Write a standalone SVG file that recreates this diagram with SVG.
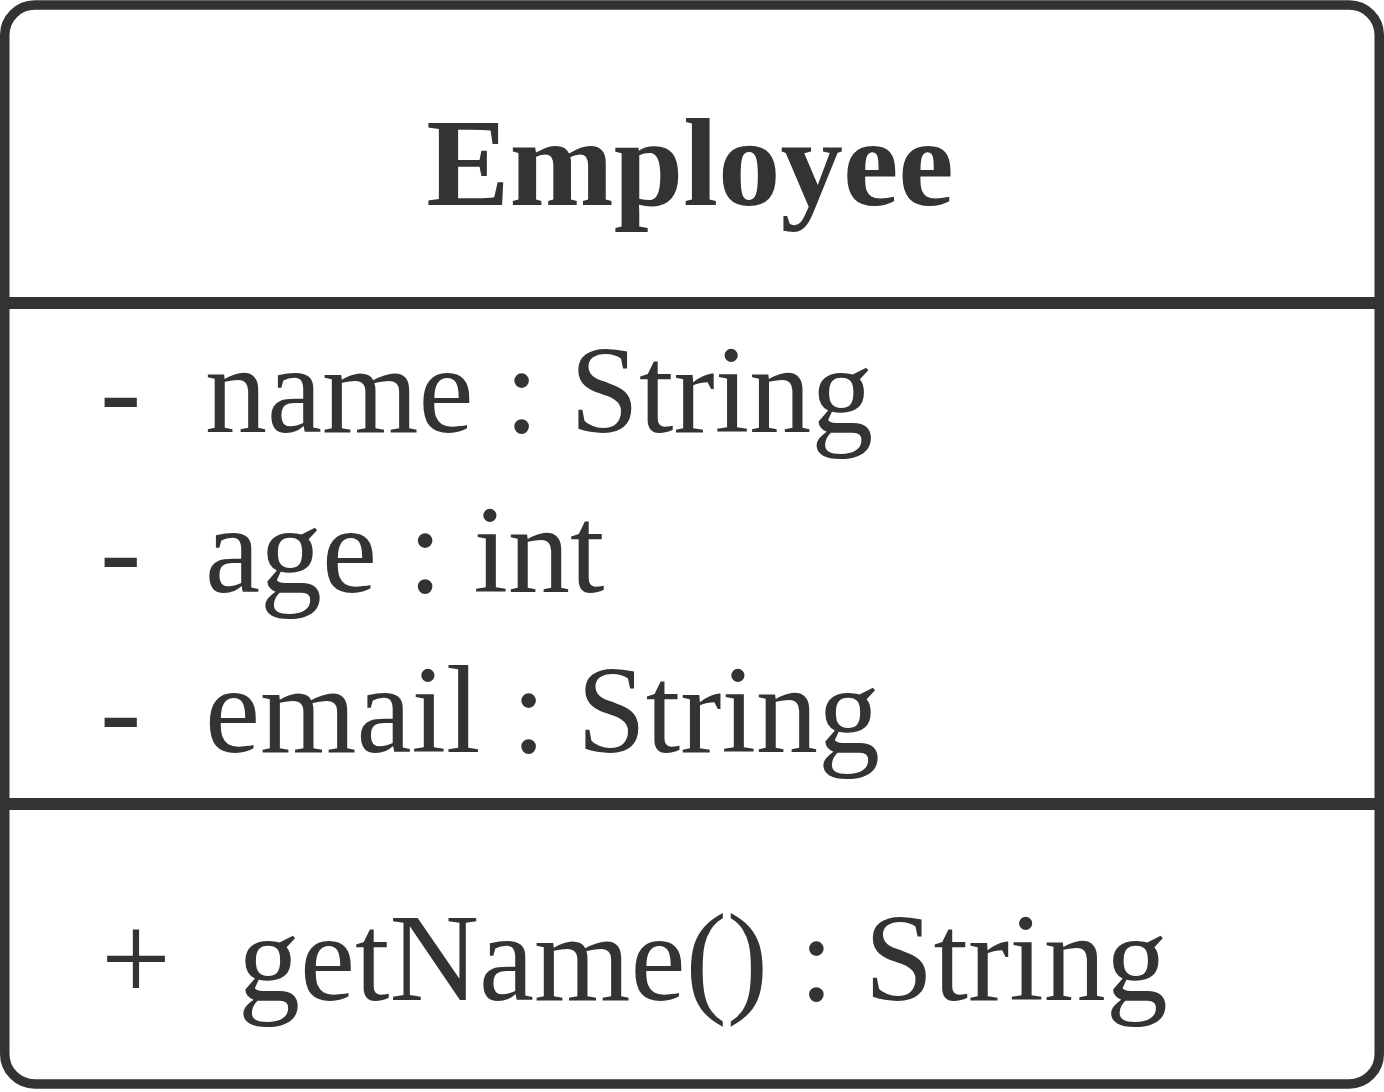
<svg xmlns="http://www.w3.org/2000/svg" width="1384" height="1092" viewBox="0 0 1384 1092">
<style>
.frame{fill:#ffffff;stroke:#333333;stroke-width:9.5}
.div{stroke:#333333;stroke-width:12}
.t{font-family:"Liberation Serif","Times New Roman",serif;fill:#333333;font-size:124px}
.title{font-weight:bold;font-size:125px}
</style>
<rect width="1384" height="1092" fill="#ffffff"/>
<g id="class-employee">
<rect class="frame" x="4.75" y="5" width="1374.5" height="1079" rx="30" ry="30"/>
<line class="div" x1="4" y1="303" x2="1380" y2="303"/>
<line class="div" x1="4" y1="804" x2="1380" y2="804"/>
<text class="t title" x="690" y="205" text-anchor="middle">Employee</text>
<text class="t" x="100" y="432">-</text>
<text class="t" x="205" y="432">name : String</text>
<text class="t" x="100" y="592">-</text>
<text class="t" x="205" y="592">age : int</text>
<text class="t" x="100" y="752">-</text>
<text class="t" x="205" y="752">email : String</text>
<text class="t" x="101" y="1000">+</text>
<text class="t" x="238" y="1000">getName() : String</text>
</g>
<g id="connectors"/>
</svg>
